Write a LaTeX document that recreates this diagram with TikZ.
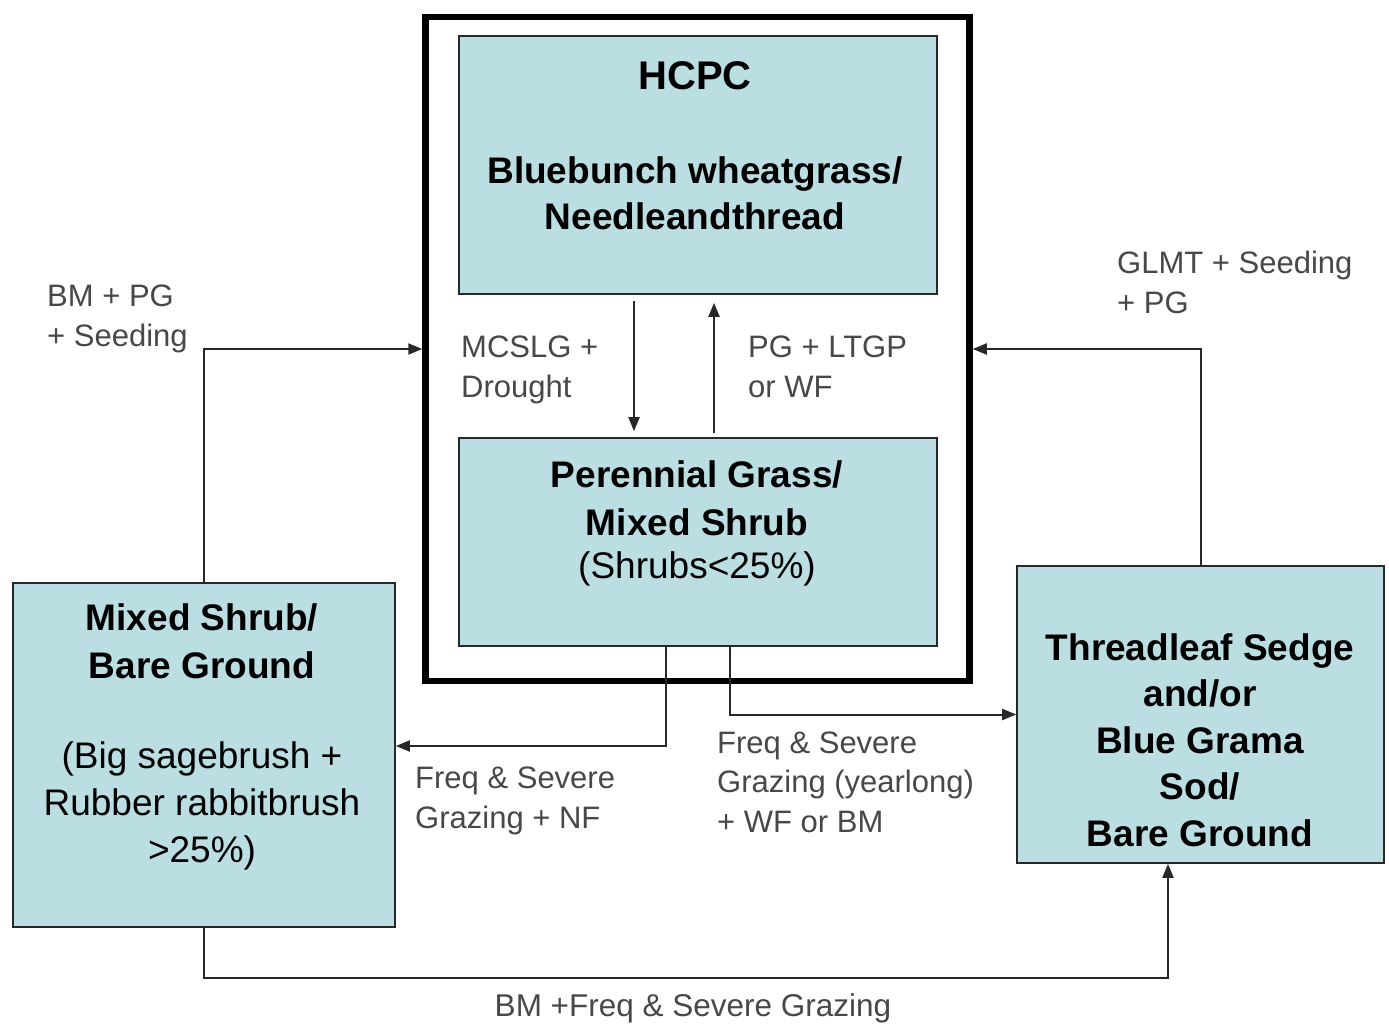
\documentclass[tikz,border=0pt]{standalone}
\usepackage{fontspec}
\setmainfont{Liberation Sans}
\usetikzlibrary{arrows.meta}
\definecolor{boxfill}{RGB}{186,222,226}
\definecolor{labelgray}{RGB}{72,72,72}
\definecolor{linegray}{RGB}{40,40,40}
\begin{document}
\begin{tikzpicture}[x=1pt,y=-1pt,
  statebox/.style={draw=linegray, line width=1.6pt, fill=boxfill, inner sep=0pt},
  boxtext/.style={font=\fontsize{37}{47}\selectfont\bfseries, align=center, inner sep=0pt, anchor=base},
  subtext/.style={font=\fontsize{37}{47}\selectfont, align=center, inner sep=0pt, anchor=base},
  lbl/.style={font=\fontsize{31}{39.5}\selectfont, text=labelgray, align=left, inner sep=0pt, anchor=base west},
  arr/.style={draw=linegray, line width=2pt, -{Triangle[length=14pt,width=11pt]}}]

\useasboundingbox (0,0) rectangle (1389,1023);
\fill[white] (0,0) rectangle (1389,1023);

% boxes
\node[draw=black, line width=6.5pt, minimum width=544pt, minimum height=664pt, inner sep=0pt] (outer) at (697.5,349) {};
\node[statebox, minimum width=478pt, minimum height=258pt] (hcpc) at (698,165) {};
\node[statebox, minimum width=478pt, minimum height=208pt] (pg) at (698,542) {};
\node[statebox, minimum width=382pt, minimum height=344pt] (lbox) at (204,755) {};
\node[statebox, minimum width=367pt, minimum height=297pt] (rbox) at (1200.5,714.5) {};

% box texts (anchor base = baseline of the last line)
\node[boxtext, font=\fontsize{40}{47}\selectfont\bfseries] (hcpcT) at (695,89) {HCPC};
\node[boxtext, font=\fontsize{37}{46}\selectfont\bfseries] (hcpcS) at (695,229) {Bluebunch wheatgrass/\\Needleandthread};
\node[boxtext, font=\fontsize{37}{48}\selectfont\bfseries] (pgT) at (697,535) {Perennial Grass/\\Mixed Shrub};
\node[subtext] (pgS) at (697,578) {(Shrubs<25\%)};
\node[boxtext, font=\fontsize{37}{48}\selectfont\bfseries] (lboxT) at (202,678) {Mixed Shrub/\\Bare Ground};
\node[subtext] (lboxS) at (202,862) {(Big sagebrush +\\Rubber rabbitbrush\\>25\%)};
\node[boxtext, font=\fontsize{37}{46.5}\selectfont\bfseries] (rboxT) at (1200,846) {Threadleaf Sedge\\and/or\\Blue Grama\\Sod/\\Bare Ground};

% labels (anchor base = baseline of the last line)
\node[lbl] (l1) at (47,346) {BM + PG\\+ Seeding};
\node[lbl] (l2) at (1117,313) {GLMT + Seeding\\+ PG};
\node[lbl] (l3) at (461,397) {MCSLG +\\Drought};
\node[lbl] (l4) at (748,397) {PG + LTGP\\or WF};
\node[lbl] (l5) at (415,828) {Freq \& Severe\\Grazing + NF};
\node[lbl] (l6) at (717,832) {Freq \& Severe\\Grazing (yearlong)\\+ WF or BM};
\node[lbl, anchor=base, font=\fontsize{31.5}{39.5}\selectfont] (l7) at (693,1016) {BM +Freq \& Severe Grazing};

% connectors
\draw[arr, shorten <=6pt, shorten >=6pt] ([xshift=-64pt]hcpc.south) -- ([xshift=-64pt]pg.north);
\draw[arr, shorten <=4pt, shorten >=8pt] ([xshift=16pt]pg.north) -- ([xshift=16pt]hcpc.south);
\draw[arr] (lbox.north) |- (outer.west);
\draw[arr] (rbox.north) |- (outer.east);
\draw[arr] ([xshift=-32pt]pg.south) |- ([yshift=9pt]lbox.east);
\draw[arr] ([xshift=32pt]pg.south) |- (rbox.west);
\draw[arr] (lbox.south) -- ++(0,50) -| ([xshift=-32.5pt]rbox.south);
\end{tikzpicture}
\end{document}
